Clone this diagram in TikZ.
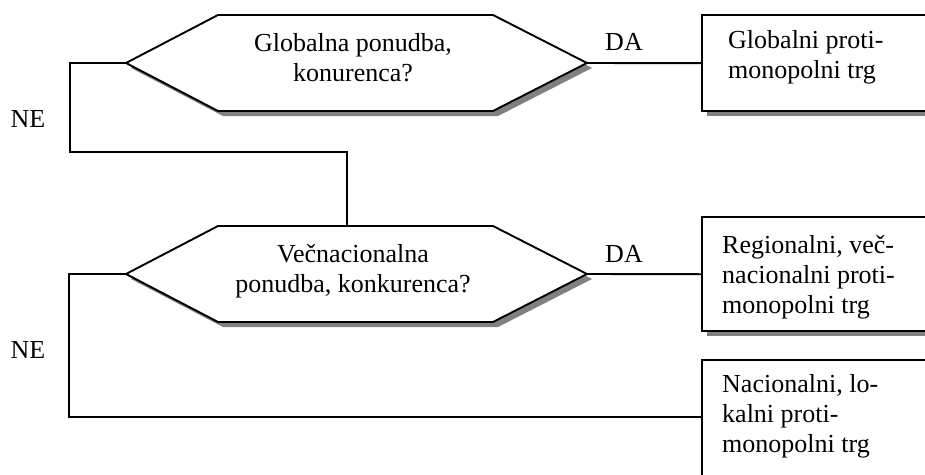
\documentclass[tikz,border=0pt]{standalone}
\usepackage{fontspec}
\setmainfont{Liberation Serif}
\usetikzlibrary{shadows}
\begin{document}
\begin{tikzpicture}[x=1pt,y=-1pt,
  shapebox/.style={draw=black, line width=1.9pt, fill=white,
    drop shadow={shadow xshift=5pt, shadow yshift=-5pt, fill=black!50, opacity=1}},
  conn/.style={draw=black, line width=1.9pt},
  lbl/.style={inner sep=0pt, font=\fontsize{26}{30}\selectfont},
  rect/.style={rectangle, inner sep=0pt, anchor=north west, fill=white,
    drop shadow={shadow xshift=5pt, shadow yshift=-5pt, fill=black!50, opacity=1}}]
\useasboundingbox (0,0) rectangle (925,474);
\clip (0,0) rectangle (925,474);

% coordinates for connectors
\coordinate (n1a) at (70,63);
\coordinate (n1c) at (347,152);
\coordinate (h2t) at (347,226);
\coordinate (n2a) at (69,274);
\coordinate (b3in) at (702,417);

% boxes (open to the right, as cut by the page edge)
\node[rect, minimum width=260pt, minimum height=96pt] (b1) at (702,15) {};
\node[rect, minimum width=260pt, minimum height=114pt] (b2) at (702,217) {};
\node[rect, minimum width=260pt, minimum height=160pt] (b3) at (702,360) {};
\draw[conn] (b1.north east) -- (b1.north west) -- (b1.south west) -- (b1.south east);
\draw[conn] (b2.north east) -- (b2.north west) -- (b2.south west) -- (b2.south east);
\draw[conn] (b3.north east) -- (b3.north west) -- (b3.south west);

% hexagons
\path[shapebox] (126,63) coordinate (h1l) -- (218,15) -- (493,15) -- (587,63) coordinate (h1r)
  -- (493,111) -- (218,111) -- cycle;
\path[shapebox] (126,274) coordinate (h2l) -- (218,226) -- (493,226) -- (587,274) coordinate (h2r)
  -- (493,322) -- (218,322) -- cycle;

% connectors
\draw[conn] (h1r) -- (b1.west);
\draw[conn] (h2r) -- (b2.west);
\draw[conn] (h1l) -- (n1a) |- (n1c) -- (h2t);
\draw[conn] (h2l) -- (n2a) |- (b3in);

% texts
\node[lbl, anchor=base] (t1) at (353,51) {\begin{tabular}[t]{@{}c@{}}Globalna ponudba,\\konurenca?\end{tabular}};
\node[lbl, anchor=base] (t2) at (353,262) {\begin{tabular}[t]{@{}c@{}}Večnacionalna\\ponudba, konkurenca?\end{tabular}};
\node[lbl, anchor=base west] (tb1) at (728,48) {\begin{tabular}[t]{@{}l@{}}Globalni proti-\\monopolni trg\end{tabular}};
\node[lbl, anchor=base west] (tb2) at (722,253) {\begin{tabular}[t]{@{}l@{}}Regionalni, več-\\nacionalni proti-\\monopolni trg\end{tabular}};
\node[lbl, anchor=base west] (tb3) at (722,392) {\begin{tabular}[t]{@{}l@{}}Nacionalni, lo-\\kalni proti-\\monopolni trg\end{tabular}};
\node[lbl, anchor=base] (da1) at (624,50) {DA};
\node[lbl, anchor=base] (da2) at (624,262) {DA};
\node[lbl, anchor=base] (ne1) at (28,127) {NE};
\node[lbl, anchor=base] (ne2) at (28,358) {NE};
\end{tikzpicture}
\end{document}
